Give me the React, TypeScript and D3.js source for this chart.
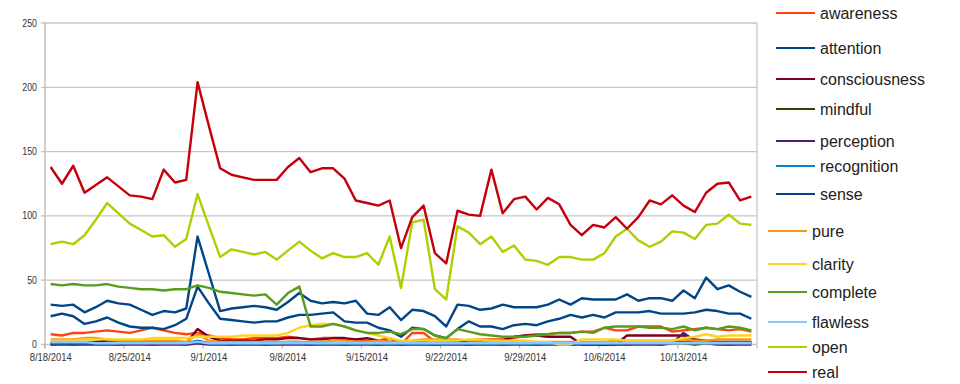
import React from "react"
import * as d3 from "d3"

// daily counts, 8/18/2014 .. 10/19/2014
const startDay = new Date(2014, 7, 18)
const days = d3.timeDay.range(startDay, new Date(2014, 9, 20))
const tickLabels = ["8/18/2014", "8/25/2014", "9/1/2014", "9/8/2014", "9/15/2014", "9/22/2014", "9/29/2014", "10/6/2014", "10/13/2014"]
const yTicks = [0, 50, 100, 150, 200, 250]

const awareness = [8, 7, 9, 9, 10, 11, 10, 9, 11, 13, 11, 9, 8, 9, 7, 5, 4, 4, 5, 5, 5, 6, 5, 4, 5, 5, 4, 4, 3, 3, 5, 0, 9, 9, 2, 2, 3, 3, 4, 4, 4, 5, 7, 8, 8, 9, 9, 10, 10, 13, 11, 11, 14, 14, 14, 10, 11, 12, 13, 12, 11, 12, 10]
const attention = [31, 30, 31, 25, 29, 34, 32, 31, 27, 23, 26, 25, 28, 84, 55, 26, 28, 29, 30, 29, 27, 33, 40, 34, 32, 33, 32, 34, 24, 23, 29, 19, 27, 26, 22, 14, 31, 30, 27, 28, 31, 29, 29, 29, 31, 35, 31, 36, 35, 35, 35, 39, 34, 36, 36, 34, 42, 36, 52, 43, 46, 41, 37]
const consciousness = [0, 1, 1, 2, 2, 3, 3, 3, 2, 2, 1, 1, 1, 12, 6, 3, 3, 3, 3, 4, 4, 5, 5, 4, 4, 5, 5, 4, 5, 3, 2, 2, 2, 2, 1, 1, 2, 3, 3, 2, 3, 6, 7, 7, 6, 6, 6, 0, 0, 0, 0, 7, 7, 7, 7, 7, 7, 4, 3, 2, 2, 2, 2]
const mindful = [1, 1, 0, 1, 1, 1, 0, 1, 1, 0, 1, 1, 0, 2, 1, 1, 0, 1, 1, 0, 1, 1, 1, 0, 1, 1, 0, 1, 1, 0, 1, 0, 1, 1, 0, 1, 1, 0, 1, 1, 0, 1, 1, 0, 1, 1, 0, 1, 1, 0, 1, 0, 1, 1, 0, 1, 1, 0, 1, 1, 0, 1, 1]
const perception = [0, 0, 0, 0, 0, 0, 0, 0, 0, 0, 0, 0, 0, 1, 0, 0, 0, 0, 0, 0, 0, 0, 0, 0, 0, 0, 0, 0, 0, 0, 0, 0, 0, 0, 0, 0, 0, 0, 0, 0, 0, 0, 0, 0, 0, 0, 0, 0, 0, 0, 0, 0, 0, 0, 0, 1, 9, 3, 1, 0, 0, 0, 0]
const recognition = [1, 1, 1, 1, 1, 1, 1, 2, 2, 2, 2, 2, 1, 3, 1, 1, 1, 1, 1, 1, 1, 2, 2, 1, 1, 1, 1, 1, 1, 1, 1, 1, 1, 1, 1, 1, 1, 1, 1, 1, 1, 1, 1, 1, 1, 1, 1, 1, 1, 1, 1, 2, 2, 2, 2, 2, 2, 2, 2, 2, 2, 2, 2]
const sense = [22, 24, 22, 16, 18, 21, 17, 14, 13, 13, 12, 15, 20, 45, 32, 20, 19, 18, 17, 18, 18, 21, 23, 23, 24, 25, 18, 17, 17, 13, 11, 6, 13, 12, 7, 5, 12, 18, 14, 14, 12, 15, 16, 15, 18, 20, 23, 21, 23, 21, 25, 25, 25, 26, 24, 24, 24, 25, 27, 26, 24, 24, 20]
const pure = [4, 4, 4, 5, 5, 4, 3, 3, 3, 3, 3, 3, 2, 8, 3, 2, 2, 2, 2, 2, 2, 2, 2, 2, 2, 3, 3, 2, 2, 3, 2, 2, 3, 4, 4, 4, 4, 3, 3, 2, 2, 2, 2, 2, 2, 2, 2, 2, 2, 2, 3, 3, 3, 3, 3, 3, 4, 3, 3, 4, 4, 4, 4]
const clarity = [3, 3, 3, 4, 4, 4, 4, 4, 4, 5, 5, 5, 5, 6, 6, 6, 6, 7, 7, 7, 7, 9, 13, 15, 16, 16, 14, 11, 9, 7, 5, 3, 3, 3, 3, 3, 3, 4, 4, 3, 3, 3, 3, 2, 2, 0, 0, 4, 4, 4, 4, 3, 3, 3, 3, 3, 5, 6, 8, 6, 7, 7, 7]
const complete = [47, 46, 47, 46, 46, 47, 45, 44, 43, 43, 42, 43, 43, 46, 44, 41, 40, 39, 38, 39, 31, 40, 45, 14, 14, 16, 14, 11, 9, 9, 10, 8, 12, 12, 7, 5, 12, 10, 8, 7, 6, 6, 6, 7, 8, 9, 9, 10, 9, 13, 14, 14, 14, 13, 13, 12, 14, 11, 13, 12, 14, 13, 11]
const flawless = [2, 2, 2, 2, 1, 1, 1, 1, 1, 1, 1, 1, 1, 2, 1, 1, 1, 1, 1, 1, 1, 1, 1, 1, 1, 1, 1, 1, 1, 1, 1, 1, 1, 1, 1, 1, 1, 1, 1, 1, 1, 1, 1, 1, 1, 1, 1, 1, 1, 1, 1, 1, 1, 1, 1, 1, 1, 1, 1, 1, 1, 1, 1]
const open = [78, 80, 78, 85, 97, 110, 102, 94, 89, 84, 85, 76, 82, 117, 92, 68, 74, 72, 70, 72, 66, 73, 80, 73, 67, 71, 68, 68, 71, 62, 84, 44, 95, 97, 43, 35, 92, 87, 78, 84, 72, 77, 66, 65, 62, 68, 68, 66, 66, 71, 84, 90, 81, 76, 80, 88, 87, 82, 93, 94, 101, 94, 93]
const real = [138, 125, 139, 118, 124, 130, 123, 116, 115, 113, 136, 126, 128, 204, 170, 137, 132, 130, 128, 128, 128, 138, 145, 134, 137, 137, 129, 112, 110, 108, 112, 75, 99, 108, 71, 63, 104, 101, 100, 136, 102, 113, 115, 105, 114, 109, 93, 85, 93, 91, 99, 90, 99, 112, 109, 116, 108, 103, 118, 125, 126, 112, 115]

const series = [
	{ name: "awareness", color: "#ff420e", values: awareness },
	{ name: "attention", color: "#004586", values: attention },
	{ name: "consciousness", color: "#7e0021", values: consciousness },
	{ name: "mindful", color: "#314004", values: mindful },
	{ name: "perception", color: "#4b1f6f", values: perception },
	{ name: "recognition", color: "#0084d1", values: recognition },
	{ name: "sense", color: "#004586", values: sense },
	{ name: "pure", color: "#ff950e", values: pure },
	{ name: "clarity", color: "#ffd320", values: clarity },
	{ name: "complete", color: "#579d1c", values: complete },
	{ name: "flawless", color: "#83caff", values: flawless },
	{ name: "open", color: "#aecf00", values: open },
	{ name: "real", color: "#c5000b", values: real },
]

// legend rows (y centre of each entry)
const legendY = [13, 48, 79, 109, 141, 166, 194, 231, 264, 292, 322, 347, 372]

const W = 960
const H = 384
const left = 45
const right = 757
const top = 23
const bottom = 344.5

const App: React.FunctionComponent = () => {
	const xScale = d3.scalePoint<number>()
		.domain(days.map((d, i) => i))
		.range([left, right])
		.padding(0.5)
	const step = xScale.step()

	const yScale = d3.scaleLinear().domain([0, 250]).range([bottom, top])

	const line = d3.line<number>()
		.x((d, i) => xScale(i) as number)
		.y((d) => yScale(d))

	const fmt = d3.timeFormat("%-m/%-d/%Y")
	const weekIdx = days.map((d, i) => i).filter((i) => i % 7 === 0)

	return (
		<svg width={W} height={H} style={{ position: "absolute", left: 0, top: 0, background: "#fff" }}
			fontFamily="'Liberation Sans', Arial, sans-serif">
			{yTicks.map((t) => (
				<g key={t}>
					<line x1={left - 4} x2={right} y1={yScale(t)} y2={yScale(t)} stroke="#c6c6c6" strokeWidth={1.3} />
					<text transform={`translate(37, ${yScale(t)}) scale(0.88, 1)`} dy="0.35em" textAnchor="end"
						fontSize={10} fill="#333">{t}</text>
				</g>
			))}
			<line x1={left} x2={left} y1={top} y2={bottom + 4} stroke="#b8b8b8" strokeWidth={1.3} />
			<line x1={right} x2={right} y1={top} y2={bottom + 4} stroke="#c6c6c6" strokeWidth={1.3} />
			{weekIdx.map((i) => (
				<g key={i}>
					<line x1={(xScale(i) as number) - step / 2} x2={(xScale(i) as number) - step / 2}
						y1={bottom} y2={bottom + 4} stroke="#b8b8b8" strokeWidth={1.2} />
					<text transform={`translate(${xScale(i) as number}, 357) scale(0.9, 1)`} dy="0.35em"
						textAnchor="middle" fontSize={10.5} fill="#333">
						{tickLabels[i / 7] ?? fmt(days[i])}
					</text>
				</g>
			))}
			{series.map((s) => (
				<path key={s.name} d={line(s.values) || ""} fill="none" stroke={s.color}
					strokeWidth={2.4} strokeLinejoin="round" />
			))}
			{series.map((s, k) => {
				const x0 = k < 7 ? 776 : 768
				return (
					<g key={s.name}>
						<line x1={x0} x2={x0 + 39} y1={legendY[k]} y2={legendY[k]} stroke={s.color} strokeWidth={2} />
						<text x={x0 + 44} y={legendY[k]} dy="0.35em" fontSize={16} fill="#222">{s.name}</text>
					</g>
				)
			})}
		</svg>
	)
}

export default App
